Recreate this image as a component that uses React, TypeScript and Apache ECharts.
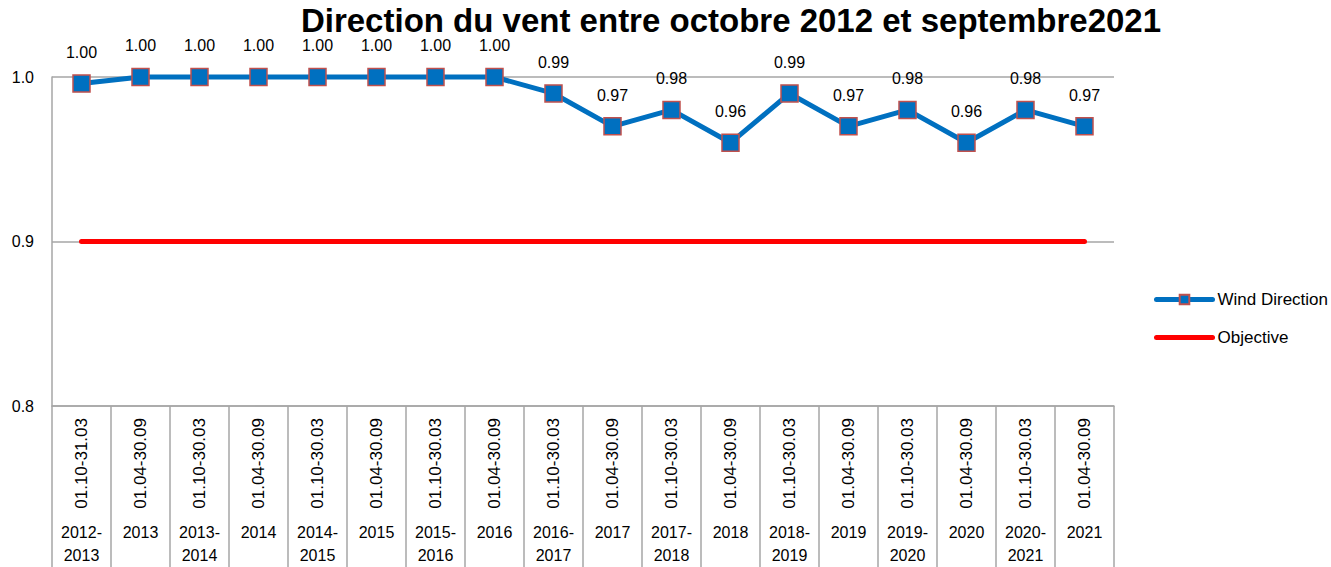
import React, { useEffect, useRef } from "react";
import * as echarts from "echarts";

const periods = [
  "01.10-31.03", "01.04-30.09", "01.10-30.03", "01.04-30.09", "01.10-30.03", "01.04-30.09",
  "01.10-30.03", "01.04-30.09", "01.10-30.03", "01.04-30.09", "01.10-30.03", "01.04-30.09",
  "01.10-30.03", "01.04-30.09", "01.10-30.03", "01.04-30.09", "01.10-30.03", "01.04-30.09",
];
const years = [
  "2012-\n2013", "2013", "2013-\n2014", "2014", "2014-\n2015", "2015", "2015-\n2016", "2016",
  "2016-\n2017", "2017", "2017-\n2018", "2018", "2018-\n2019", "2019", "2019-\n2020", "2020",
  "2020-\n2021", "2021",
];
const windDirection = [0.996, 1.0, 1.0, 1.0, 1.0, 1.0, 1.0, 1.0, 0.99, 0.97, 0.98, 0.96, 0.99, 0.97, 0.98, 0.96, 0.98, 0.97];
const objective = [0.9, 0.9, 0.9, 0.9, 0.9, 0.9, 0.9, 0.9, 0.9, 0.9, 0.9, 0.9, 0.9, 0.9, 0.9, 0.9, 0.9, 0.9];
const yTicks = { min: 0.8, max: 1.0, interval: 0.1 };

const FONT = "'Liberation Sans', Arial, sans-serif";

export default function App() {
  const ref = useRef<HTMLDivElement>(null);
  useEffect(() => {
    document.body.style.margin = "0";
    const chart = echarts.init(ref.current!, null, { renderer: "svg" });
    chart.setOption({
      animation: false,
      textStyle: { fontFamily: FONT },
      title: {
        text: "Direction du vent entre octobre 2012 et septembre2021",
        left: 731,
        textAlign: "center",
        top: 5,
        padding: 0,
        textStyle: { fontFamily: FONT, fontSize: 33, lineHeight: 30, fontWeight: "bold", color: "#000" },
      },
      legend: {
        orient: "vertical",
        left: 1149,
        top: 286,
        itemWidth: 56,
        itemHeight: 12,
        itemGap: 21,
        lineStyle: { width: 5, cap: "round" },
        textStyle: { fontFamily: FONT, fontSize: 17, color: "#000" },
        data: [
          { name: "Wind Direction" },
          { name: "Objective", itemStyle: { opacity: 0 } },
        ],
      },
      grid: { left: 52, right: 217, top: 77, bottom: 161, containLabel: false },
      xAxis: [
        {
          type: "category",
          data: periods,
          boundaryGap: true,
          position: "bottom",
          axisLine: { show: true, lineStyle: { color: "#A6A6A6", width: 1.5 } },
          axisTick: { show: true, interval: 0, length: 170, lineStyle: { color: "#A6A6A6", width: 1.5 } },
          axisLabel: { interval: 0, rotate: 90, margin: 12, fontSize: 17, color: "#000", fontFamily: FONT },
          splitLine: { show: false },
        },
        {
          type: "category",
          data: years,
          boundaryGap: true,
          position: "bottom",
          axisLine: { show: false },
          axisTick: { show: false },
          axisLabel: { interval: 0, margin: 115, fontSize: 16, lineHeight: 23, color: "#000", fontFamily: FONT },
          splitLine: { show: false },
        },
      ],
      yAxis: {
        type: "value",
        min: yTicks.min,
        max: yTicks.max,
        interval: yTicks.interval,
        axisLine: { show: true, lineStyle: { color: "#A6A6A6", width: 1.5 } },
        axisTick: { show: false },
        axisLabel: { margin: 18, fontSize: 16, color: "#000", fontFamily: FONT, formatter: (v: number) => v.toFixed(1) },
        splitLine: { show: true, lineStyle: { color: "#A6A6A6", width: 1.5 } },
      },
      series: [
        {
          name: "Wind Direction",
          type: "line",
          xAxisIndex: 0,
          data: windDirection,
          symbol: "rect",
          symbolSize: 17,
          clip: false,
          itemStyle: { color: "#0070C0", borderColor: "#C0504D", borderWidth: 1.5 },
          lineStyle: { color: "#0070C0", width: 5, cap: "round", join: "round" },
          label: {
            show: true,
            position: "top",
            distance: 14,
            fontSize: 16,
            color: "#000",
            fontFamily: FONT,
            formatter: (p: any) => p.value.toFixed(2),
          },
          z: 3,
        },
        {
          name: "Objective",
          type: "line",
          xAxisIndex: 0,
          data: objective,
          symbol: "none",
          itemStyle: { color: "#FF0000" },
          lineStyle: { color: "#FF0000", width: 5, cap: "round" },
          z: 2,
        },
      ],
    });
    return () => chart.dispose();
  }, []);
  return <div ref={ref} style={{ width: 1331, height: 567 }} />;
}
